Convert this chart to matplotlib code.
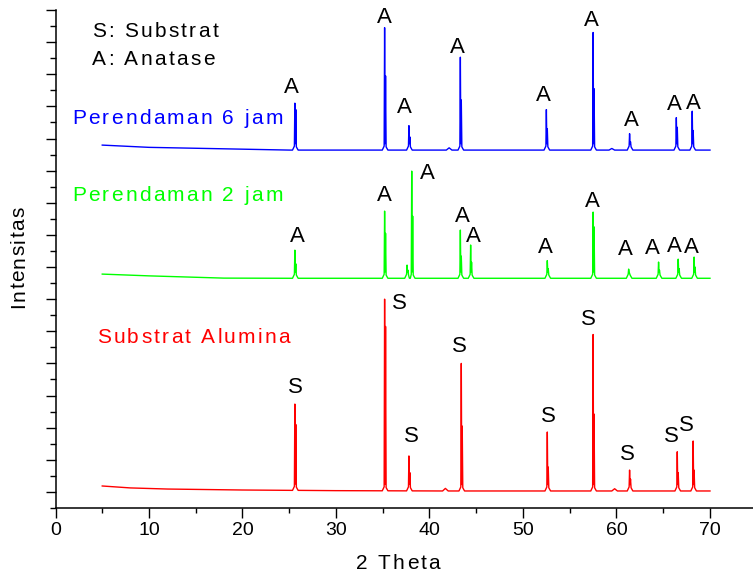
import matplotlib
matplotlib.use("Agg")
import matplotlib.pyplot as plt
import numpy as np
from matplotlib.font_manager import FontProperties, findfont
from matplotlib.ft2font import FT2Font

FONT = "Liberation Sans"

# ---- substrat alumina (red) ----
red_base_x = [5, 8, 12, 20, 30, 41.4, 41.7, 42.0, 59.5, 59.8, 60.1, 70]
red_base_y = [1.37, 1.25, 1.18, 1.12, 1.08, 1.06, 1.22, 1.06, 1.06, 1.2, 1.06, 1.06]
red_peak_x = [25.6, 35.2, 37.8, 43.4, 52.6, 57.5, 61.4, 66.5, 68.2]
red_peak_top = [6.47, 13.0, 3.24, 9.0, 4.73, 10.8, 2.36, 3.5, 4.17]
red_peak_k2 = [5.2, 11.3, 2.2, 5.1, 2.55, 5.85, 1.8, 2.2, 2.36]
red_lab_x = [25.61, 36.74, 38.1, 43.16, 52.67, 56.95, 61.22, 65.82, 67.53]
red_lab_y = [7.5, 12.76, 4.48, 10.08, 5.72, 11.76, 3.36, 4.48, 5.16]

# ---- perendaman 2 jam (green) ----
green_base_x = [5, 10, 18, 25, 70]
green_base_y = [14.56, 14.45, 14.31, 14.3, 14.3]
green_peak_x = [25.6, 35.2, 37.6, 38.1, 43.3, 44.4, 52.6, 57.5, 61.3, 64.5, 66.6, 68.3]
green_peak_top = [16.05, 18.48, 15.12, 20.97, 17.30, 16.37, 15.4, 18.42, 14.87, 15.31, 15.49, 15.62]
green_peak_k2 = [15.2, 17.1, 14.8, 18.17, 15.68, 15.3, 14.9, 17.5, 14.6, 14.8, 14.9, 15.0]
green_lab_x = [25.83, 35.13, 39.73, 43.48, 44.65, 52.35, 57.38, 60.91, 63.80, 66.15, 67.97]
green_lab_y = [16.93, 19.48, 20.85, 18.17, 16.93, 16.24, 19.10, 16.12, 16.18, 16.30, 16.24]

# ---- perendaman 6 jam (blue) ----
blue_base_x = [5, 10, 25, 41.8, 42.1, 42.4, 59.2, 59.5, 59.8, 70]
blue_base_y = [22.59, 22.45, 22.28, 22.28, 22.42, 22.28, 22.28, 22.38, 22.28, 22.28]
blue_peak_x = [25.6, 35.2, 37.8, 43.3, 52.5, 57.5, 61.4, 66.4, 68.1]
blue_peak_top = [25.2, 29.9, 23.8, 28.06, 24.8, 29.6, 23.3, 24.3, 24.7]
blue_peak_k2 = [24.8, 26.9, 23.1, 25.4, 23.6, 26.1, 22.8, 23.7, 23.5]
blue_lab_x = [25.19, 35.13, 37.27, 42.94, 52.14, 57.27, 61.55, 66.15, 68.18]
blue_lab_y = [26.2, 30.55, 24.95, 28.69, 25.70, 30.37, 24.14, 25.14, 25.20]


def build(base_x, base_y, px, top, k2):
    xs, ys = list(base_x), list(base_y)
    for p, t, s in zip(px, top, k2):
        b = np.interp(p, base_x, base_y)
        xs += [p - 0.25, p - 0.05, p, p + 0.05, p + 0.1, p + 0.16, p + 0.35]
        ys += [b, b + 0.25, t, b + 0.4, s, b + 0.2, b]
    order = np.argsort(xs, kind="stable")
    return np.array(xs)[order], np.array(ys)[order]


def spaced(ax, x, y, s, transform, size=15, color="black", track=1.65,
           ha="left", rot=0):
    # text with extra letter spacing, like the original software output
    ft = FT2Font(findfont(FontProperties(family=FONT)))
    ft.set_size(size, 72)
    adv = [ft.load_char(ord(c)).linearHoriAdvance / 65536 for c in s]
    total = sum(adv) + track * (len(s) - 1)
    off = {"left": 0, "center": -total / 2, "right": -total}[ha]
    ca, sa = np.cos(np.radians(rot)), np.sin(np.radians(rot))
    cap = 0.716 * size / 2
    for c, a in zip(s, adv):
        if c != " ":
            ax.annotate(c, (x, y), xycoords=transform,
                        xytext=(off * ca + cap * sa, off * sa - cap * ca),
                        textcoords="offset points", ha="left", va="baseline",
                        rotation=rot, rotation_mode="anchor",
                        fontsize=size, color=color, family=FONT)
        off += a + track


fig = plt.figure(figsize=(7.53, 5.76), dpi=100)
ax = fig.add_axes([55.5 / 753, 68 / 576, (753 - 55.5) / 753, 498 / 576])

for bx, by, px, pt, pk, col, lx, ly, tag in [
        (red_base_x, red_base_y, red_peak_x, red_peak_top, red_peak_k2,
         "#ff0000", red_lab_x, red_lab_y, "S"),
        (green_base_x, green_base_y, green_peak_x, green_peak_top,
         green_peak_k2, "#00ff00", green_lab_x, green_lab_y, "A"),
        (blue_base_x, blue_base_y, blue_peak_x, blue_peak_top, blue_peak_k2,
         "#0000ff", blue_lab_x, blue_lab_y, "A")]:
    x, y = build(bx, by, px, pt, pk)
    ax.plot(x, y, color=col, linewidth=1.0)
    for xx, yy in zip(lx, ly):
        ax.text(xx, yy, tag, ha="center", va="center", fontsize=16,
                family=FONT, color="black")

spaced(ax, 1.77, 24.39, "Perendaman 6 jam", ax.transData, color="#0000ff")
spaced(ax, 1.77, 19.55, "Perendaman 2 jam", ax.transData, color="#00ff00")
spaced(ax, 4.44, 10.76, "Substrat Alumina", ax.transData, color="#ff0000")
spaced(ax, 3.90, 29.8, "S: Substrat", ax.transData)
spaced(ax, 3.90, 28.06, "A: Anatase", ax.transData)

spaced(ax, 398 / 753, 1 - 562 / 576, "2 Theta", fig.transFigure, ha="center")
spaced(ax, 17 / 753, 1 - 257 / 576, "Intensitas", fig.transFigure,
       ha="center", rot=90, track=1.0)

ax.set_xlim(0, 74.6)
ax.set_ylim(0, 31)
ax.set_xticks(np.arange(0, 71, 10))
ax.set_xticks(np.arange(5, 71, 10), minor=True)
ax.set_yticks(np.arange(1, 32, 2))
ax.set_yticks(np.arange(0, 32, 2), minor=True)
ax.set_yticklabels([])
ax.set_xticklabels([str(v) for v in range(0, 71, 10)], family=FONT,
                   fontsize=14)
ax.tick_params(axis="x", which="major", length=7.2, width=1.0, pad=3)
ax.tick_params(axis="x", which="minor", length=3.6, width=1.0)
ax.tick_params(axis="y", which="major", length=7.2, width=1.0)
ax.tick_params(axis="y", which="minor", length=4.3, width=1.0)
for side in ["top", "right"]:
    ax.spines[side].set_visible(False)
for side in ["left", "bottom"]:
    ax.spines[side].set_linewidth(1.1)

plt.savefig("out.png", dpi=100)
